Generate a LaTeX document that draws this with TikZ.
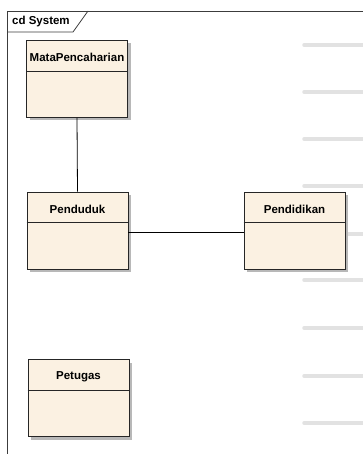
\documentclass[tikz,border=0pt]{standalone}
\usepackage{fontspec}
\setmainfont{Liberation Sans}
\usetikzlibrary{shadows,calc}
\definecolor{classfill}{RGB}{251,241,226}
\definecolor{framecol}{RGB}{60,60,60}
\definecolor{pagebrk}{RGB}{226,226,226}
\tikzset{
  classbox/.style={draw=black!85, line width=0.9pt, fill=classfill, minimum width=101pt, minimum height=77pt, inner sep=0pt,
    drop shadow={shadow xshift=3pt, shadow yshift=-3pt, fill=black!28, opacity=1}},
  classtitle/.style={font=\fontsize{11.5}{13}\selectfont\bfseries, inner sep=0pt, anchor=center},
  divider/.style={draw=black!85, line width=0.9pt},
  assoc/.style={draw=black, line width=0.8pt},
  framestyle/.style={draw=framecol, line width=0.8pt},
  brk/.style={draw=pagebrk, line width=3.5pt, line cap=round}
}
\begin{document}
\begin{tikzpicture}[x=1pt,y=-1pt]
\useasboundingbox[fill=white] (0,0) rectangle (363,454);
% page break markers
\foreach \yy in {45,92,139,186,234,280,328,376,423}{
  \draw[brk] (304,\yy) -- (366,\yy);
}
% frame
\draw[framestyle] (7,454) -- (7,11) -- (363,11);
\draw[framestyle] (7,32) -- (73,32) -- (88,11);
\node[classtitle, anchor=west] (frametitle) at (12,21.5) {cd System};
% classes
\node[classbox] (mp) at (77,79) {};
\node[classbox] (pd) at (77.5,230.5) {};
\node[classbox] (pe) at (294.5,230.5) {};
\node[classbox] (pt) at (78.5,398) {};
\foreach \n in {mp,pd,pe,pt}{
  \draw[divider] ($(\n.north west)+(0,31)$) -- ($(\n.north east)+(0,31)$);
}
\node[classtitle] (mpt) at ($(mp.north)+(0,17.5)$) {MataPencaharian};
\node[classtitle] (pdt) at ($(pd.north)+(0,17.5)$) {Penduduk};
\node[classtitle] (pet) at ($(pe.north)+(0,17.5)$) {Pendidikan};
\node[classtitle] (ptt) at ($(pt.north)+(0,17.5)$) {Petugas};
% associations
\draw[assoc] (mp.south) -- (pd.north);
\draw[assoc] ($(pd.east)+(0,1.5)$) -- ($(pe.west)+(0,1.5)$);
\end{tikzpicture}
\end{document}
